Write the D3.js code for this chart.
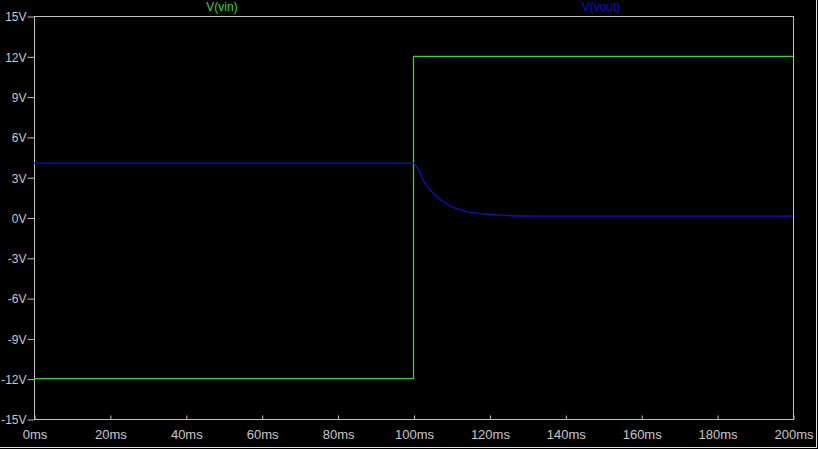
<!DOCTYPE html>
<html>
<head>
<meta charset="utf-8">
<script src="https://cdn.jsdelivr.net/npm/d3@7"></script>
<style>
  html, body { margin: 0; padding: 0; background: #000; }
  svg { display: block; }
  .tick-label { font-family: "Liberation Sans", Arial, sans-serif; font-size: 13px; fill: #c8c8c8; }
  .ytick-label { font-size: 12px; }
  .title { font-family: "Liberation Sans", Arial, sans-serif; font-size: 12px; }
</style>
</head>
<body>
<svg id="chart"></svg>
<script>
// time in ms, volts
var vinTime = [0, 100, 100, 200];
var vinVolts = [-12, -12, 12, 12];

var voutTime = [0, 100, 101.3, 103, 105.7, 109.2, 113.6, 118.8, 124.1, 128.5, 140, 200];
var voutVolts = [4.05, 4.05, 3.54, 2.55, 1.68, 0.93, 0.48, 0.26, 0.16, 0.11, 0.1, 0.1];

var xTicks = [0, 20, 40, 60, 80, 100, 120, 140, 160, 180, 200];
var yTicks = [-15, -12, -9, -6, -3, 0, 3, 6, 9, 12, 15];

var width = 818, height = 449;
var margin = {top: 16, right: 25, bottom: 30, left: 34};

var svg = d3.select("#chart").attr("width", width).attr("height", height);

svg.append("rect").attr("width", width).attr("height", height).attr("fill", "#000");

var x = d3.scaleLinear().domain([0, 200]).range([margin.left, width - margin.right]);
var y = d3.scaleLinear().domain([-15, 15]).range([height - margin.bottom, margin.top]);

var axisColor = "#c0c0c0";

// plot frame
svg.append("rect")
  .attr("x", x(0) + 0.5)
  .attr("y", y(15) + 0.5)
  .attr("width", x(200) - x(0))
  .attr("height", y(-15) - y(15))
  .attr("fill", "none")
  .attr("stroke", axisColor);

// y axis
var yAxis = svg.append("g")
  .attr("transform", "translate(" + (x(0) + 0.5) + ",0.5)")
  .call(d3.axisLeft(y).tickValues(yTicks).tickSize(7).tickPadding(1).tickFormat(d => d + "V"));
yAxis.select(".domain").remove();
yAxis.selectAll("line").attr("stroke", axisColor);
yAxis.selectAll("text").attr("class", "tick-label ytick-label").attr("fill", null).attr("dy", "0.36em");

// x axis, ticks point inward
var xAxis = svg.append("g")
  .attr("transform", "translate(0.5," + (y(-15) + 0.5) + ")")
  .call(d3.axisBottom(x).tickValues(xTicks).tickSize(-4).tickPadding(10).tickFormat(d => d + "ms"));
xAxis.select(".domain").remove();
xAxis.selectAll("line").attr("stroke", axisColor);
xAxis.selectAll("text").attr("class", "tick-label").attr("fill", null);

var line = d3.line().x(d => x(d[0])).y(d => y(d[1]));
var smooth = d3.line().x(d => x(d[0])).y(d => y(d[1])).curve(d3.curveMonotoneX);

svg.append("path")
  .datum(vinTime.map((t, i) => [t, vinVolts[i]]))
  .attr("d", line)
  .attr("fill", "none")
  .attr("stroke", "#33d633")
  .attr("stroke-width", 1.3);

svg.append("path")
  .datum(voutTime.map((t, i) => [t, voutVolts[i]]))
  .attr("d", smooth)
  .attr("fill", "none")
  .attr("stroke", "#1010c8")
  .attr("stroke-width", 1.3);

// trace names
svg.append("text").attr("class", "title")
  .attr("x", 222).attr("y", 11).attr("text-anchor", "middle")
  .attr("fill", "#33d633").text("V(vin)");
svg.append("text").attr("class", "title")
  .attr("x", 601).attr("y", 11).attr("text-anchor", "middle")
  .attr("fill", "#1010c8").text("V(vout)");

// window edge lines
svg.append("line").attr("x1", 816.5).attr("x2", 816.5).attr("y1", 0).attr("y2", 448)
  .attr("stroke", "#e0e0e0");
svg.append("line").attr("x1", 0).attr("x2", 817).attr("y1", 447.5).attr("y2", 447.5)
  .attr("stroke", "#e0e0e0");
</script>
</body>
</html>
